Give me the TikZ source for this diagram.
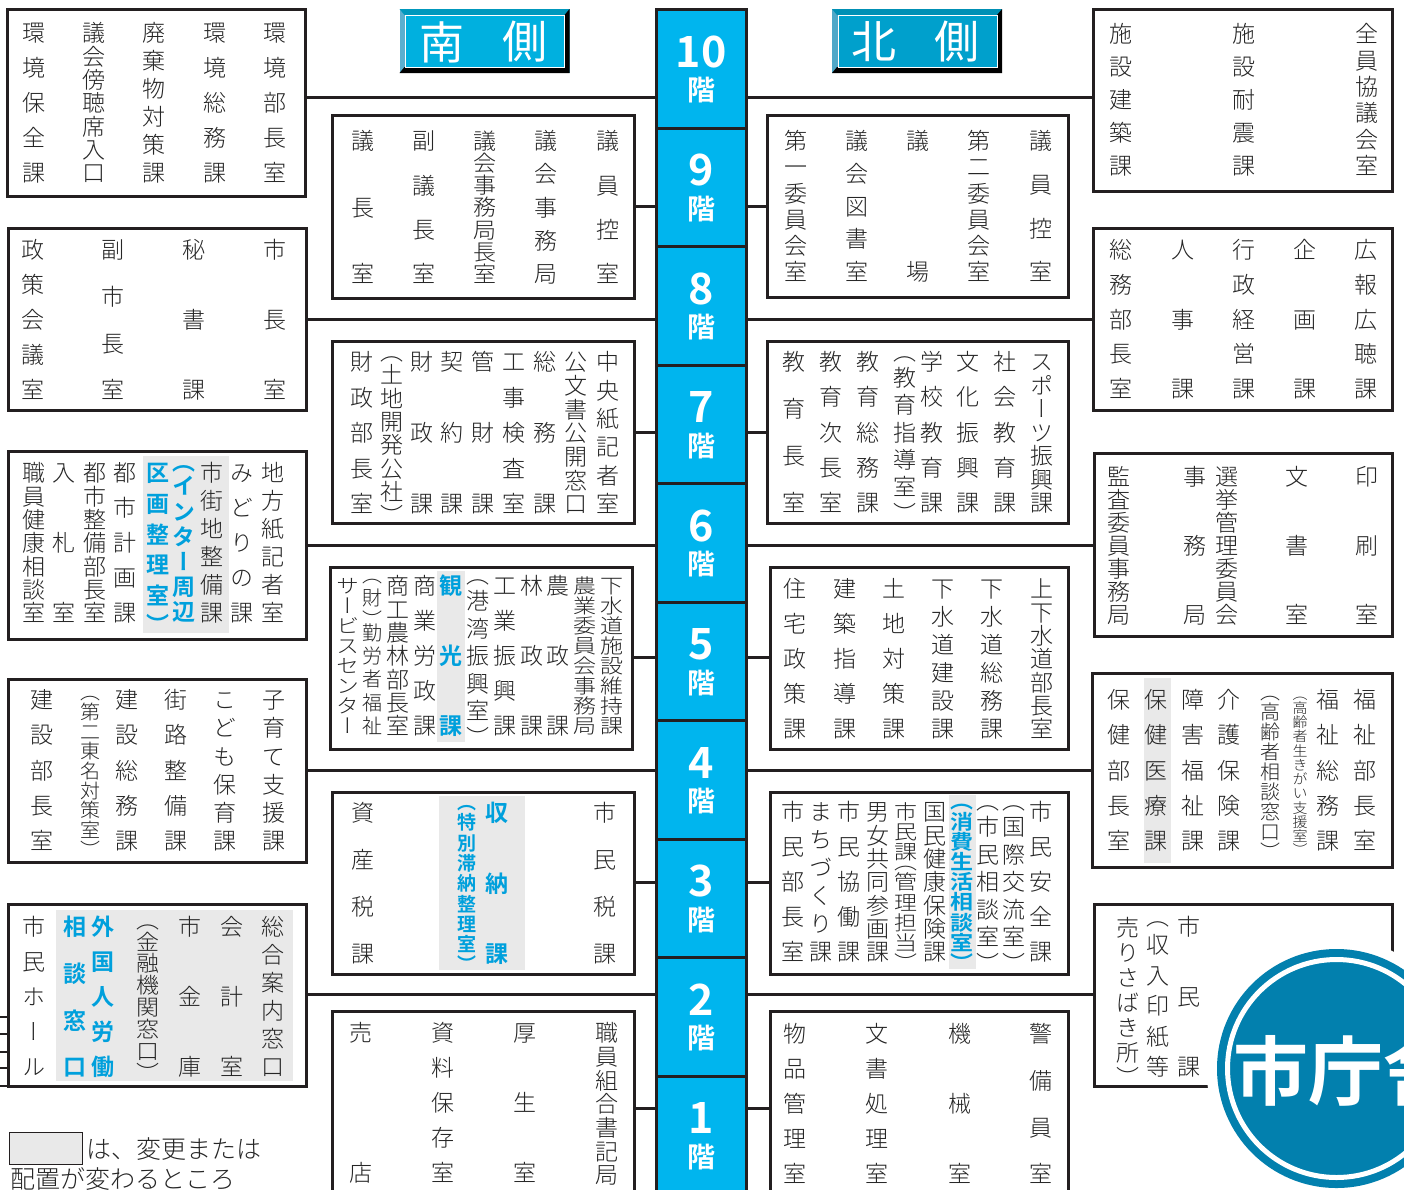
\documentclass[tikz,border=0pt]{standalone}
\usepackage{fontspec}
\setmainfont{Noto Sans CJK JP Light}[RawFeature=+vert]
\newfontfamily\vbold{Noto Sans CJK JP Bold}[RawFeature=+vert]
\newfontfamily\hlight{Noto Sans CJK JP Light}
\newfontfamily\hregular{Noto Sans CJK JP}
\newfontfamily\hbold{Noto Sans CJK JP Bold}
\usepackage{xcolor}
\definecolor{lineblack}{HTML}{231F20}
\definecolor{floorblue}{HTML}{00B5EE}
\definecolor{textblue}{HTML}{00A0DC}
\definecolor{panelgray}{HTML}{E9E9E9}
\definecolor{sealblue}{HTML}{0280AE}
\definecolor{southblue}{HTML}{00B0DF}
\definecolor{southtop}{HTML}{0098BD}
\definecolor{southleft}{HTML}{5BAFCF}
\definecolor{northblue}{HTML}{00A0CC}
\definecolor{northtop}{HTML}{0090B5}
\definecolor{northleft}{HTML}{4FA8C8}
\tikzset{
  roombox/.style={draw=lineblack, fill=white, line width=3pt, anchor=north west, inner sep=0pt, outer sep=0pt},
  panel/.style={fill=panelgray, anchor=north west, inner sep=0pt, outer sep=0pt},
  floorbox/.style={draw=lineblack, fill=floorblue, line width=3pt, anchor=north, inner sep=0pt, outer sep=0pt, minimum width=90pt, minimum height=118.6pt},
  vchar/.style={inner sep=0pt, text=black!85, font=\fontsize{23}{23}\selectfont, text height=20.2pt, text depth=2.8pt},
  vsmall/.style={inner sep=0pt, text=black!85, font=\fontsize{20}{20}\selectfont, text height=17.6pt, text depth=2.4pt},
  vtiny/.style={inner sep=0pt, text=black!85, font=\fontsize{15}{15}\selectfont, text height=13.2pt, text depth=1.8pt},
  vblue/.style={inner sep=0pt, text=textblue, font=\vbold\fontsize{23}{23}\selectfont, text height=20.2pt, text depth=2.8pt},
  vbluesmall/.style={inner sep=0pt, text=textblue, font=\vbold\fontsize{19}{19}\selectfont, text height=16.7pt, text depth=2.3pt},
  conn/.style={draw=lineblack, line width=3pt},
  floornum/.style={inner sep=0pt, text=white, font=\hbold\fontsize{43}{43}\selectfont},
  floorkai/.style={inner sep=0pt, text=white, font=\hbold\fontsize{28}{28}\selectfont},
  badgetext/.style={inner sep=0pt, text=white, font=\hregular\fontsize{45}{45}\selectfont},
  legendtext/.style={inner sep=0pt, anchor=base west, text=black!85, font=\hlight\fontsize{25}{25}\selectfont}
}
\def\vsizevchar{23}
\def\vsizevsmall{20}
\def\vsizevtiny{15}
\def\vsizevblue{23}
\def\vsizevbluesmall{19}
\def\vopen{（}
\def\vclose{）}
\newcommand{\vweight}{\ifx\c\vopen\def\vw{0.5}\else\ifx\c\vclose\def\vw{0.5}\else\def\vw{1}\fi\fi}
% one column of upright characters, brackets take half a place, squeezed when the column is full
\newcommand{\vcol}[6][vchar]{%
  \gdef\vsum{0}%
  \foreach \c [count=\n] in {#6} {%
    \vweight\pgfmathparse{\vsum+\vw}\xdef\vsum{\pgfmathresult}%
    \ifnum\n=1 \xdef\vfirst{\vw}\fi\xdef\vlast{\vw}%
  }%
  \pgfmathsetmacro{\vstart}{#4-11.5+\vfirst*11.5}%
  \pgfmathsetmacro{\vend}{#5+11.5-\vlast*11.5}%
  \pgfmathsetmacro{\vunit}{(\vend-\vstart)/(\vsum-(\vfirst+\vlast)/2)}%
  \edef\vsize{\csname vsize#1\endcsname}%
  \pgfmathsetmacro{\vfac}{min(1,\vunit/\vsize)}%
  \xdef\vpos{\vstart}\xdef\vprev{0}%
  \foreach \c [count=\i] in {#6} {%
    \vweight
    \ifnum\i>1 \pgfmathparse{\vpos+(\vprev+\vw)/2*\vunit}\xdef\vpos{\pgfmathresult}\fi
    \xdef\vprev{\vw}%
    \def\vshift{0}%
    \ifx\c\vopen\pgfmathsetmacro{\vshift}{-0.25*\vsize*\vfac}\fi
    \ifx\c\vclose\pgfmathsetmacro{\vshift}{0.25*\vsize*\vfac}\fi
    \node (#2-\i) [#1, transform shape, yscale=\vfac] at (#3,\vpos+\vshift) {\c};%
  }%
}
% raised name plate
\newcommand{\badge}[7]{%
  \fill[#4] (#2,9) rectangle (#2+170,73);
  \fill[#3] (#2,9) -- (#2+170,9) -- (#2+165,15) -- (#2+5,15) -- cycle;
  \fill[black] (#2+170,9) -- (#2+170,73) -- (#2,73) -- (#2+5,67) -- (#2+165,67) -- (#2+165,15) -- cycle;
  \node (#1) [draw=white, line width=1pt, fill=#5, anchor=north west, minimum width=159pt, minimum height=52pt, inner sep=0pt] at (#2+5.5,15) {};
  \node (#1-a) [badgetext] at (#2+42,42) {#6};
  \node (#1-b) [badgetext] at (#2+125,42) {#7};
}

\begin{document}
\begin{tikzpicture}[x=1pt, y=-1pt]
\useasboundingbox (0,0) rectangle (1404,1189);
\clip (0,0) rectangle (1404,1189);
% floors
\foreach \f [count=\i from 0] in {10,9,8,7,6,5,4,3,2,1} {
  \pgfmathsetmacro{\ftop}{9.5+118.5*\i}
  \node (fl\f) [floorbox] at (701,\ftop) {};
  \node (num\f) [floornum] at (701,\ftop+42) {\f};
  \node (kai\f) [floorkai] at (701,\ftop+81) {階};
}
% boxes, south side
\node (l10) [roombox, minimum width=298pt, minimum height=187pt] at (7,9) {};
\node (l8) [roombox, minimum width=298pt, minimum height=182pt] at (8,228) {};
\node (l6) [roombox, minimum width=298pt, minimum height=188pt] at (8,451) {};
\node (l4) [roombox, minimum width=298pt, minimum height=183pt] at (8,679) {};
\node (l2) [roombox, minimum width=298pt, minimum height=182pt] at (8,904) {};
\node (m9) [roombox, minimum width=302pt, minimum height=183pt] at (332,115) {};
\node (m7) [roombox, minimum width=302pt, minimum height=182pt] at (332,341) {};
\node (m5) [roombox, minimum width=302pt, minimum height=182pt] at (330,567) {};
\node (m3) [roombox, minimum width=302pt, minimum height=182pt] at (332,792) {};
\node (m1) [roombox, minimum width=302pt, minimum height=230pt] at (332,1011) {};
% boxes, north side
\node (r9) [roombox, minimum width=301pt, minimum height=182pt] at (767,115) {};
\node (r7) [roombox, minimum width=301pt, minimum height=182pt] at (767,341) {};
\node (r5) [roombox, minimum width=298pt, minimum height=182pt] at (770,567) {};
\node (r3) [roombox, minimum width=298pt, minimum height=182pt] at (770,792) {};
\node (r1) [roombox, minimum width=298pt, minimum height=230pt] at (770,1011) {};
\node (o10) [roombox, minimum width=299pt, minimum height=182pt] at (1093,9) {};
\node (o8) [roombox, minimum width=299pt, minimum height=182pt] at (1093,228) {};
\node (o6) [roombox, minimum width=298pt, minimum height=183pt] at (1094,453) {};
\node (o4) [roombox, minimum width=300pt, minimum height=194pt] at (1092,673) {};
\node (o2) [roombox, minimum width=298pt, minimum height=182pt] at (1094,904) {};
% connectors
\foreach \f/\y in {10/97,9/206,8/319,7/432,6/545,5/657,4/770,3/882,2/994,1/1108}
  \coordinate (t\f) at (701,\y);
\foreach \f/\a/\b in {10/l10/o10,9/m9/r9,8/l8/o8,7/m7/r7,6/l6/o6,5/m5/r5,4/l4/o4,3/m3/r3,2/l2/o2,1/m1/r1} {
  \draw[conn] (\a.east |- t\f) -- (fl\f.west |- t\f);
  \draw[conn] (fl\f.east |- t\f) -- (\b.west |- t\f);
}
\foreach \y [count=\i] in {1017,1034,1052,1068,1086} {
  \coordinate (s\i) at (0,\y);
  \draw[lineblack, line width=2pt] (s\i) -- (s\i -| l2.west);
}
% changed places
\node (gl6) [panel, minimum width=86pt, minimum height=177pt] at (143,456) {};
\node (gl2) [panel, minimum width=237pt, minimum height=171pt] at (56,910) {};
\node (gm5) [panel, minimum width=28pt, minimum height=171pt] at (437,571) {};
\node (gm3) [panel, minimum width=86pt, minimum height=174pt] at (439,796) {};
\node (gr3) [panel, minimum width=27pt, minimum height=174pt] at (949,795) {};
\node (go4) [panel, minimum width=27pt, minimum height=185pt] at (1144,678) {};
% name plates
\badge{south}{399.5}{southtop}{southleft}{southblue}{南}{側}
\badge{north}{832}{northtop}{northleft}{northblue}{北}{側}
% south, row 10
\vcol{l10a}{34}{33}{173}{環,境,保,全,課}
\vcol{l10b}{94}{33}{173}{議,会,傍,聴,席,入,口}
\vcol{l10c}{154}{33}{173}{廃,棄,物,対,策,課}
\vcol{l10d}{215}{33}{173}{環,境,総,務,課}
\vcol{l10e}{275}{33}{173}{環,境,部,長,室}
% south, row 9
\vcol{m9a}{363}{141}{274}{議,長,室}
\vcol{m9b}{424}{141}{274}{副,議,長,室}
\vcol{m9c}{485}{141}{274}{議,会,事,務,局,長,室}
\vcol{m9d}{546}{141}{274}{議,会,事,務,局}
\vcol{m9e}{608}{141}{274}{議,員,控,室}
% south, row 8
\vcol{l8a}{33}{250}{390}{政,策,会,議,室}
\vcol{l8b}{113}{250}{390}{副,市,長,室}
\vcol{l8c}{194}{250}{390}{秘,書,課}
\vcol{l8d}{275}{250}{390}{市,長,室}
% south, row 7
\vcol{m7a}{362}{362}{504}{財,政,部,長,室}
\vcol{m7b}{392}{363}{504}{（,土,地,開,発,公,社,）}
\vcol{m7c}{422}{362}{504}{財,政,課}
\vcol{m7d}{452}{362}{504}{契,約,課}
\vcol{m7e}{483}{362}{504}{管,財,課}
\vcol{m7f}{514}{362}{504}{工,事,検,査,室}
\vcol{m7g}{545}{362}{504}{総,務,課}
\vcol{m7h}{576}{362}{504}{公,文,書,公,開,窓,口}
\vcol{m7i}{608}{362}{504}{中,央,紙,記,者,室}
% south, row 6
\vcol{l6a}{34}{473}{613}{職,員,健,康,相,談,室}
\vcol{l6b}{64}{473}{613}{入,札,室}
\vcol{l6c}{95}{473}{613}{都,市,整,備,部,長,室}
\vcol{l6d}{125}{473}{613}{都,市,計,画,課}
\vcol[vblue]{l6e}{158}{473}{613}{区,画,整,理,室,）}
\vcol[vblue]{l6f}{184}{473}{612}{（,イ,ン,タ,ー,周,辺}
\vcol{l6g}{212}{473}{613}{市,街,地,整,備,課}
\vcol{l6h}{242}{473}{613}{み,ど,り,の,課}
\vcol{l6i}{273}{473}{613}{地,方,紙,記,者,室}
% south, row 5
\vcol{m5a}{348}{586}{726}{サ,ー,ビ,ス,セ,ン,タ,ー}
\vcol[vsmall]{m5b}{372}{586}{726}{（,財,）,勤,労,者,福,祉}
\vcol{m5c}{398}{586}{726}{商,工,農,林,部,長,室}
\vcol{m5d}{425}{586}{726}{商,業,労,政,課}
\vcol[vblue]{m5e}{451}{586}{726}{観,光,課}
\vcol{m5f}{478}{586}{726}{（,港,湾,振,興,室,）}
\vcol{m5g}{505}{586}{726}{工,業,振,興,課}
\vcol{m5h}{532}{586}{726}{林,政,課}
\vcol{m5i}{558}{586}{726}{農,政,課}
\vcol{m5j}{585}{586}{726}{農,業,委,員,会,事,務,局}
\vcol{m5k}{612}{586}{726}{下,水,道,施,設,維,持,課}
% south, row 4
\vcol{l4a}{42}{700}{841}{建,設,部,長,室}
\vcol[vsmall]{l4b}{90}{703}{839}{（,第,二,東,名,対,策,室,）}
\vcol{l4c}{127}{700}{841}{建,設,総,務,課}
\vcol{l4d}{176}{700}{841}{街,路,整,備,課}
\vcol{l4e}{225}{700}{841}{こ,ど,も,保,育,課}
\vcol{l4f}{274}{700}{841}{子,育,て,支,援,課}
% south, row 3
\vcol{m3a}{363}{813}{954}{資,産,税,課}
\vcol[vbluesmall]{m3b}{467}{813}{954}{（,特,別,滞,納,整,理,室,）}
\vcol[vblue]{m3c}{497}{813}{954}{収,納,課}
\vcol{m3d}{605}{813}{954}{市,民,税,課}
% south, row 2
\vcol{l2a}{34}{927}{1067}{市,民,ホ,ー,ル}
\vcol[vblue]{l2b}{75}{927}{1067}{相,談,窓,口}
\vcol[vblue]{l2c}{103}{927}{1067}{外,国,人,労,働}
\vcol{l2d}{148}{931}{1062}{（,金,融,機,関,窓,口,）}
\vcol{l2e}{190}{927}{1067}{市,金,庫}
\vcol{l2f}{232}{927}{1067}{会,計,室}
\vcol{l2g}{273}{927}{1067}{総,合,案,内,窓,口}
% south, row 1
\vcol{m1a}{361}{1033}{1173}{売,店}
\vcol{m1b}{443}{1033}{1173}{資,料,保,存,室}
\vcol{m1c}{525}{1033}{1173}{厚,生,室}
\vcol{m1d}{607}{1033}{1175}{職,員,組,合,書,記,局}
% north, row 10
\vcol{o10a}{1121}{34}{166}{施,設,建,築,課}
\vcol{o10b}{1244}{34}{166}{施,設,耐,震,課}
\vcol{o10c}{1367}{34}{166}{全,員,協,議,会,室}
% north, row 9
\vcol{r9a}{796}{141}{272}{第,一,委,員,会,室}
\vcol{r9b}{857}{141}{272}{議,会,図,書,室}
\vcol{r9c}{918}{141}{272}{議,場}
\vcol{r9d}{979}{141}{272}{第,二,委,員,会,室}
\vcol{r9e}{1041}{141}{272}{議,員,控,室}
% north, row 8
\vcol{o8a}{1121}{250}{389}{総,務,部,長,室}
\vcol{o8b}{1183}{250}{389}{人,事,課}
\vcol{o8c}{1244}{250}{389}{行,政,経,営,課}
\vcol{o8d}{1305}{250}{389}{企,画,課}
\vcol{o8e}{1366}{250}{389}{広,報,広,聴,課}
% north, row 7
\vcol{r7a}{794}{362}{503}{教,育,長,室}
\vcol{r7b}{831}{362}{503}{教,育,次,長,室}
\vcol{r7c}{868}{362}{503}{教,育,総,務,課}
\vcol{r7d}{905}{363}{502}{（,教,育,指,導,室,）}
\vcol{r7e}{932}{362}{503}{学,校,教,育,課}
\vcol{r7f}{968}{362}{503}{文,化,振,興,課}
\vcol{r7g}{1005}{362}{503}{社,会,教,育,課}
\vcol{r7h}{1042}{362}{503}{ス,ポ,ー,ツ,振,興,課}
% north, row 6
\vcol{o6a}{1119}{477}{615}{監,査,委,員,事,務,局}
\vcol{o6b}{1195}{477}{615}{事,務,局}
\vcol{o6c}{1227}{477}{615}{選,挙,管,理,委,員,会}
\vcol{o6d}{1297}{477}{615}{文,書,室}
\vcol{o6e}{1367}{477}{615}{印,刷,室}
% north, row 5
\vcol{r5a}{795}{589}{729}{住,宅,政,策,課}
\vcol{r5b}{845}{589}{729}{建,築,指,導,課}
\vcol{r5c}{894}{589}{729}{土,地,対,策,課}
\vcol{r5d}{943}{589}{729}{下,水,道,建,設,課}
\vcol{r5e}{992}{589}{729}{下,水,道,総,務,課}
\vcol{r5f}{1042}{589}{729}{上,下,水,道,部,長,室}
% north, row 4
\vcol{o4a}{1119}{700}{841}{保,健,部,長,室}
\vcol{o4b}{1156}{700}{841}{保,健,医,療,課}
\vcol{o4c}{1193}{700}{841}{障,害,福,祉,課}
\vcol{o4d}{1229}{700}{841}{介,護,保,険,課}
\vcol[vsmall]{o4e}{1270}{703}{841}{（,高,齢,者,相,談,窓,口,）}
\vcol[vtiny]{o4f}{1300}{703}{841}{（,高,齢,者,生,き,が,い,支,援,室,）}
\vcol{o4g}{1328}{700}{841}{福,祉,総,務,課}
\vcol{o4h}{1365}{700}{841}{福,祉,部,長,室}
% north, row 3
\vcol{r3a}{793}{812}{952}{市,民,部,長,室}
\vcol{r3b}{821}{812}{952}{ま,ち,づ,く,り,課}
\vcol{r3c}{849}{812}{952}{市,民,協,働,課}
\vcol{r3d}{878}{812}{952}{男,女,共,同,参,画,課}
\vcol{r3e}{906}{812}{952}{市,民,課,（,管,理,担,当,）}
\vcol{r3f}{935}{812}{952}{国,民,健,康,保,険,課}
\vcol[vblue]{r3g}{962}{812}{952}{（,消,費,生,活,相,談,室,）}
\vcol{r3h}{988}{812}{952}{（,市,民,相,談,室,）}
\vcol{r3i}{1014}{812}{952}{（,国,際,交,流,室,）}
\vcol{r3j}{1041}{812}{952}{市,民,安,全,課}
% north, row 2
\vcol{o2a}{1128}{928}{1066}{売,り,さ,ば,き,所,）}
\vcol{o2b}{1158}{928}{1067}{（,収,入,印,紙,等}
\vcol{o2c}{1189}{927}{1067}{市,民,課}
% north, row 1
\vcol{r1a}{795}{1034}{1174}{物,品,管,理,室}
\vcol{r1b}{877}{1034}{1174}{文,書,処,理,室}
\vcol{r1c}{960}{1034}{1174}{機,械,室}
\vcol{r1d}{1041}{1034}{1174}{警,備,員,室}
% seal
\fill[white] (1336.5,1068.5) circle (130pt);
\fill[sealblue] (1336.5,1068.5) circle (119.5pt);
\draw[white, line width=5pt] (1336.5,1068.5) circle (109pt);
\node (sealname) [inner sep=0pt, anchor=west, text=white, font=\hbold\fontsize{75}{75}\selectfont] at (1233,1071) {市庁舎};
% legend
\node (swatch) [panel, draw=lineblack, line width=1pt, minimum width=73pt, minimum height=32pt] at (9.5,1132.5) {};
\node (legenda) [legendtext] at (86,1158) {は、変更または};
\node (legendb) [legendtext] at (10,1188) {配置が変わるところ};
\end{tikzpicture}
\end{document}
